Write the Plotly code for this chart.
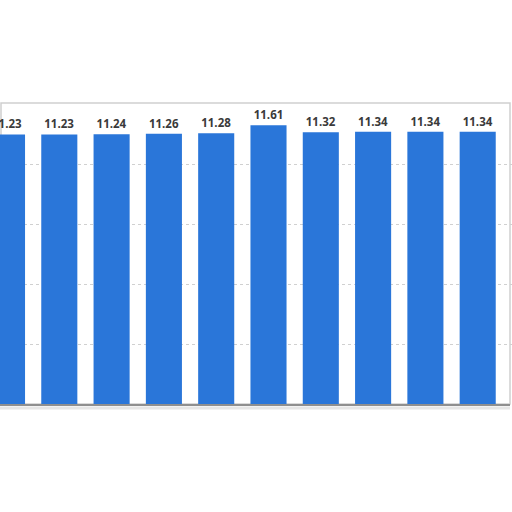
import plotly.graph_objects as go

# values (years are cropped away, so just positions)
categories = ["1", "2", "3", "4", "5", "6", "7", "8", "9", "10"]
values = [11.23, 11.23, 11.24, 11.26, 11.28, 11.61, 11.32, 11.34, 11.34, 11.34]
labels = ["11.23", "11.23", "11.24", "11.26", "11.28", "11.61", "11.32", "11.34", "11.34", "11.34"]
y_ticks = [0, 2.5, 5, 7.5, 10]

W = H = 512
top_px, bottom_px = 103, 404
pitch, first_center = 52.3, 7

fig = go.Figure(go.Bar(
    x=categories, y=values,
    text=labels, textposition="outside",
    textfont=dict(family="Open Sans", size=11.5, color="#3a3a3a", weight="bold"),
    marker=dict(color="#2a76d9", line=dict(width=0)),
    width=0.69, cliponaxis=False,
))

fig.update_layout(
    width=W, height=H,
    margin=dict(l=0, r=0, t=0, b=0),
    paper_bgcolor="white", plot_bgcolor="white",
    showlegend=False,
    xaxis=dict(
        type="category",
        range=[-first_center / pitch, (W - first_center) / pitch],
        showticklabels=False, showgrid=False, zeroline=False, ticks="",
    ),
    yaxis=dict(
        domain=[(H - bottom_px) / H, (H - top_px) / H],
        range=[0, (bottom_px - top_px) / 24.0],
        tickvals=y_ticks, showticklabels=False,
        showgrid=True, gridcolor="#d0d0d0", griddash="dot", gridwidth=1,
        zeroline=False, ticks="",
    ),
)

# chart frame: thin grey box with darker base line
fig.add_shape(type="rect", xref="paper", yref="paper",
              x0=1 / W, x1=510 / W,
              y0=(H - bottom_px) / H, y1=(H - top_px) / H,
              line=dict(color="#cfcfcf", width=1.5), layer="below")
fig.add_shape(type="line", xref="paper", yref="paper",
              x0=0, x1=510 / W,
              y0=(H - bottom_px - 1) / H, y1=(H - bottom_px - 1) / H,
              line=dict(color="#8f8f8f", width=2))
fig.add_shape(type="line", xref="paper", yref="paper",
              x0=0, x1=510 / W,
              y0=(H - bottom_px - 4) / H, y1=(H - bottom_px - 4) / H,
              line=dict(color="#e6e6e6", width=3))

fig.write_html("out.html", config={"displayModeBar": False},
               post_script="document.body.style.margin='0';")
